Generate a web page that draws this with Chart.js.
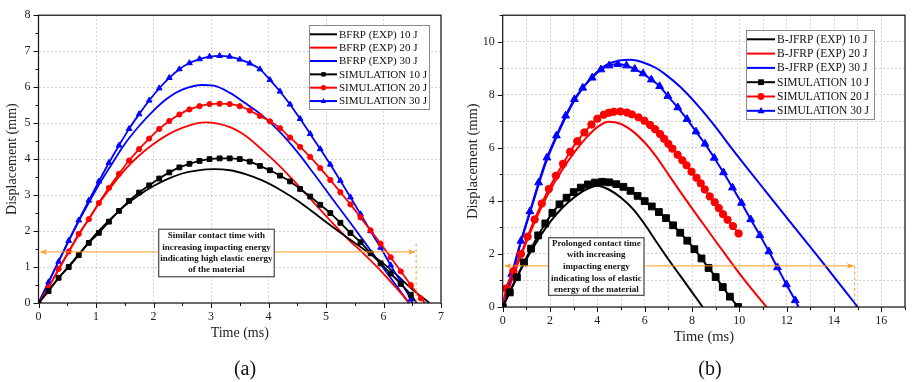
<!DOCTYPE html>
<html lang="en">
<head>
  <meta charset="UTF-8">
  <title>Displacement vs time - BFRP and B-JFRP</title>
  <style>
    body { margin: 0; background: #fff; }
    .sheet {
      position: relative;
      width: 912px;
      height: 382px;
      font-family: 'Liberation Serif', 'Times New Roman', serif;
    }
    canvas { position: absolute; top: 0; }
    #chartA { left: 0; }
    #chartB { left: 460px; }
    .tag {
      position: absolute;
      top: 358px;
      width: 60px;
      line-height: 20px;
      text-align: center;
      font-size: 20px;
      color: #111;
    }
  </style>
</head>
<body>

<div class="sheet">
  <canvas id="chartA" width="460" height="382"></canvas>
  <canvas id="chartB" width="452" height="382"></canvas>
  <div class="tag" style="left:215px">(a)</div>
  <div class="tag" style="left:680px">(b)</div>
</div>

<script src="https://cdn.jsdelivr.net/npm/chart.js"></script>
<script>
  // ---- (a) BFRP ----
  // experiments (smooth lines)
  const expTimeA10 = [0, 0.25, 0.5, 0.75, 1, 1.25, 1.5, 1.75, 2, 2.25, 2.5, 2.75, 3.05, 3.33, 3.6, 3.9, 4.2, 4.5, 4.78, 5.07, 5.36, 5.65, 5.94, 6.23, 6.5, 6.8];
  const expA10 = [0, 0.5, 0.98, 1.45, 1.92, 2.33, 2.7, 3.0, 3.25, 3.45, 3.6, 3.68, 3.72, 3.69, 3.58, 3.4, 3.15, 2.85, 2.52, 2.17, 1.83, 1.5, 1.17, 0.78, 0.38, 0];
  const expTimeA20 = [0, 0.25, 0.5, 0.75, 1, 1.25, 1.5, 1.75, 2, 2.25, 2.5, 2.9, 3.33, 3.6, 3.91, 4.2, 4.49, 4.8, 5.07, 5.4, 5.65, 5.9, 6.12, 6.3, 6.45];
  const expA20 = [0, 0.65, 1.35, 2.02, 2.65, 3.2, 3.7, 4.1, 4.42, 4.68, 4.87, 5.02, 4.89, 4.65, 4.23, 3.8, 3.31, 2.77, 2.3, 1.75, 1.38, 0.98, 0.6, 0.28, 0];
  const expTimeA30 = [0, 0.25, 0.5, 0.75, 1, 1.25, 1.5, 1.75, 2, 2.25, 2.5, 2.85, 3.05, 3.33, 3.6, 3.9, 4.2, 4.5, 4.8, 5.1, 5.4, 5.7, 6.0, 6.25, 6.44];
  const expA30 = [0, 0.83, 1.65, 2.42, 3.15, 3.8, 4.42, 4.92, 5.35, 5.7, 5.93, 6.06, 6.04, 5.84, 5.55, 5.2, 4.75, 4.2, 3.57, 2.92, 2.28, 1.63, 0.97, 0.42, 0];

  // simulations (marker every output step, then the line runs down to zero)
  const simTimeA = [0, 0.175, 0.35, 0.525, 0.7, 0.875, 1.05, 1.225, 1.4, 1.575, 1.75, 1.925, 2.1, 2.275, 2.45, 2.625, 2.8, 2.975, 3.15, 3.325,
                    3.5, 3.675, 3.85, 4.025, 4.2, 4.375, 4.55, 4.725, 4.9, 5.075, 5.25, 5.425, 5.6, 5.775, 5.95, 6.125, 6.3, 6.475, 6.65];
  const simA10 = [0, 0.33, 0.7, 1.0, 1.33, 1.67, 1.95, 2.26, 2.56, 2.84, 3.07, 3.27, 3.46, 3.63, 3.77, 3.87, 3.95, 4.0, 4.02, 4.02,
                  4.0, 3.93, 3.81, 3.69, 3.54, 3.38, 3.17, 2.96, 2.73, 2.5, 2.23, 1.95, 1.69, 1.38, 1.1, 0.82, 0.53, 0.23];
  const simA20 = [0, 0.43, 0.95, 1.43, 1.92, 2.33, 2.78, 3.2, 3.59, 3.96, 4.28, 4.57, 4.84, 5.06, 5.24, 5.38, 5.47, 5.53, 5.54, 5.53,
                  5.47, 5.35, 5.2, 5.05, 4.86, 4.6, 4.34, 4.06, 3.75, 3.42, 3.08, 2.74, 2.38, 2.02, 1.65, 1.27, 0.88, 0.5, 0.13];
  const simA30 = [0, 0.58, 1.15, 1.73, 2.3, 2.85, 3.38, 3.9, 4.38, 4.84, 5.25, 5.63, 5.97, 6.26, 6.5, 6.67, 6.78, 6.85, 6.87, 6.85,
                  6.77, 6.66, 6.5, 6.2, 5.88, 5.52, 5.12, 4.7, 4.28, 3.85, 3.4, 2.94, 2.47, 2.0, 1.54, 1.05, 0.58, 0.1];
  const simEndA = [6.58, 6.72, 6.5];   // time where each simulation curve meets zero

  // ---- (b) B-JFRP ----
  const expTimeB10 = [0, 0.5, 1, 1.5, 2, 2.5, 3, 3.5, 4, 4.5, 5, 5.5, 6, 6.5, 7, 7.5, 8, 8.45];
  const expB10 = [0, 0.95, 1.8, 2.55, 3.2, 3.72, 4.12, 4.42, 4.57, 4.42, 4.12, 3.7, 3.12, 2.45, 1.8, 1.18, 0.56, 0];
  const expTimeB20 = [0, 0.5, 1, 1.5, 2, 2.5, 3, 3.5, 4, 4.48, 5, 5.5, 6, 6.5, 7, 7.5, 8, 8.5, 9, 9.5, 10, 10.5, 11.15];
  const expB20 = [0, 1.3, 2.45, 3.5, 4.4, 5.15, 5.8, 6.35, 6.78, 6.98, 6.9, 6.62, 6.2, 5.65, 5.0, 4.35, 3.72, 3.1, 2.48, 1.87, 1.27, 0.7, 0];
  const expTimeB30 = [0, 0.4, 0.77, 1.15, 1.52, 1.87, 2.27, 2.66, 3.03, 3.38, 3.78, 4.15, 4.5, 5.0, 5.4, 6.0, 6.5, 6.86, 7.5, 8.26,
                      9.0, 9.66, 10.5, 11.06, 12.06, 13.46, 14.86, 15.0];
  const expB30 = [0, 1.22, 2.45, 3.55, 4.62, 5.55, 6.4, 7.15, 7.78, 8.25, 8.68, 8.98, 9.18, 9.3, 9.32, 9.2, 9.0, 8.78, 8.3, 7.58,
                  6.78, 6.0, 5.05, 4.42, 3.3, 1.75, 0.16, 0];

  const simTimeB10 = [0, 0.3, 0.6, 0.9, 1.2, 1.5, 1.8, 2.1, 2.4, 2.7, 3.0, 3.3, 3.6, 3.9, 4.2, 4.5, 4.8, 5.1, 5.4, 5.7,
                      6.0, 6.3, 6.6, 6.9, 7.2, 7.5, 7.8, 8.1, 8.4, 8.7, 9.0, 9.3, 9.6, 9.95];
  const simB10 = [0, 0.55, 1.12, 1.68, 2.2, 2.7, 3.15, 3.55, 3.87, 4.12, 4.33, 4.5, 4.62, 4.69, 4.72, 4.7, 4.63, 4.53, 4.38, 4.19,
                  3.99, 3.79, 3.58, 3.35, 3.08, 2.8, 2.5, 2.18, 1.83, 1.47, 1.13, 0.75, 0.39, 0];
  const simTimeB20 = [0, 0.15, 0.45, 0.77, 1.05, 1.35, 1.65, 1.95, 2.25, 2.55, 2.85, 3.15, 3.45, 3.75, 4.0, 4.27, 4.48, 4.69, 4.97, 5.25,
                      5.46, 5.74, 5.99, 6.23, 6.44, 6.65, 6.82, 7.0, 7.17, 7.39, 7.59, 7.77, 7.98, 8.19, 8.37, 8.54, 8.75, 8.96, 9.13, 9.31,
                      9.5, 9.73, 9.97];
  const simB20 = [0, 0.7, 1.35, 2.0, 2.65, 3.3, 3.9, 4.45, 4.95, 5.4, 5.85, 6.25, 6.58, 6.88, 7.1, 7.25, 7.32, 7.36, 7.37, 7.33,
                  7.26, 7.15, 7.02, 6.86, 6.7, 6.52, 6.34, 6.15, 5.97, 5.74, 5.53, 5.34, 5.1, 4.87, 4.66, 4.43, 4.17, 3.95, 3.73, 3.5,
                  3.29, 3.05, 2.77];
  const simTimeB30 = [0, 0.38, 0.77, 1.15, 1.52, 1.87, 2.27, 2.66, 3.03, 3.38, 3.78, 4.15, 4.5, 4.87, 5.23, 5.58, 5.93, 6.28, 6.63, 6.98,
                      7.4, 7.79, 8.17, 8.55, 8.94, 9.33, 9.71, 10.09, 10.48, 10.87, 11.25, 11.61, 11.99, 12.36, 12.5];
  const simB30 = [0, 1.24, 2.49, 3.6, 4.69, 5.63, 6.46, 7.21, 7.83, 8.26, 8.64, 8.95, 9.1, 9.15, 9.1, 8.97, 8.8, 8.57, 8.32, 7.95,
                  7.52, 7.08, 6.61, 6.15, 5.62, 5.07, 4.5, 3.92, 3.3, 2.7, 2.09, 1.49, 0.85, 0.25, 0];

  const labelsA = ['BFRP (EXP) 10 J', 'BFRP (EXP) 20 J', 'BFRP (EXP) 30 J', 'SIMULATION 10 J', 'SIMULATION 20 J', 'SIMULATION 30 J'];
  const labelsB = ['B-JFRP (EXP) 10 J', 'B-JFRP (EXP) 20 J', 'B-JFRP (EXP) 30 J', 'SIMULATION 10 J', 'SIMULATION 20 J', 'SIMULATION 30 J'];
  const noteA = ['Similar contact time with', 'increasing impacting energy', 'indicating high elastic energy', 'of the material'];
  const noteB = ['Prolonged contact time', 'with increasing', 'impacting energy', 'indicating loss of elastic', 'energy of the material'];

  const COLORS = ['#000000', '#ff0000', '#0000ff'];
  const MARKERS = ['rect', 'circle', 'triangle'];
  const SERIF = "'Liberation Serif', 'Times New Roman', serif";

  const pts = (ts, ys) => ys.map((v, i) => ({ x: ts[i], y: v }));

  function expSet(label, color, ts, ys, w) {
    return {
      label, data: pts(ts, ys), borderColor: color, backgroundColor: color,
      borderWidth: w, pointRadius: 0, cubicInterpolationMode: 'monotone', order: 2
    };
  }

  function simSet(label, color, style, data, r, w, hideLast) {
    return {
      label, data, borderColor: color, backgroundColor: color, borderWidth: w,
      pointStyle: style, pointBorderWidth: 1,
      pointRadius: data.map((_, i) => (hideLast && i === data.length - 1) ? 0 : r),
      cubicInterpolationMode: 'monotone', order: 1, sim: true
    };
  }

  // draws a legend marker like the chart's own points
  function marker(ctx, style, x, y, r) {
    ctx.beginPath();
    if (style === 'rect') {
      ctx.rect(x - r * 0.85, y - r * 0.85, r * 1.7, r * 1.7);
    } else if (style === 'circle') {
      ctx.arc(x, y, r, 0, Math.PI * 2);
    } else {
      ctx.moveTo(x, y - r * 1.15);
      ctx.lineTo(x - r * 1.05, y + r * 0.75);
      ctx.lineTo(x + r * 1.05, y + r * 0.75);
      ctx.closePath();
    }
    ctx.fill();
  }

  function arrowHead(ctx, x, y, dir) {
    ctx.beginPath();
    ctx.moveTo(x, y);
    ctx.lineTo(x - dir * 7, y - 2.8);
    ctx.lineTo(x - dir * 5, y);
    ctx.lineTo(x - dir * 7, y + 2.8);
    ctx.closePath();
    ctx.fill();
  }

  const paperLook = {
    id: 'paperLook',
    afterDatasetsDraw(chart, args, o) {
      const { ctx, scales: { x, y } } = chart;
      ctx.save();
      // orange double-headed arrow and dashed drop line
      const ay = y.getPixelForValue(o.arrowY);
      const x0 = x.getPixelForValue(o.arrowX[0]);
      const x1 = x.getPixelForValue(o.arrowX[1]);
      ctx.strokeStyle = '#ff9a2e';
      ctx.fillStyle = '#ff9a2e';
      ctx.lineWidth = 1;
      ctx.beginPath();
      ctx.moveTo(x0, ay);
      ctx.lineTo(x1, ay);
      ctx.stroke();
      arrowHead(ctx, x0, ay, -1);
      arrowHead(ctx, x1, ay, 1);
      ctx.setLineDash([3, 2.5]);
      ctx.beginPath();
      ctx.moveTo(x1 + 1, y.getPixelForValue(o.dropTop));
      ctx.lineTo(x1 + 1, y.getPixelForValue(0));
      ctx.stroke();
      ctx.setLineDash([]);

      // note box
      const bl = x.getPixelForValue(o.box[0]), br = x.getPixelForValue(o.box[1]);
      const bt = y.getPixelForValue(o.box[2]), bb = y.getPixelForValue(o.box[3]);
      ctx.fillStyle = '#fff';
      ctx.fillRect(bl, bt, br - bl, bb - bt);
      ctx.strokeStyle = '#555';
      ctx.lineWidth = 1.3;
      ctx.strokeRect(bl, bt, br - bl, bb - bt);
      ctx.fillStyle = '#111';
      ctx.font = 'bold ' + o.noteSize + 'px ' + SERIF;
      ctx.textAlign = 'center';
      ctx.textBaseline = 'middle';
      const first = (bt + bb) / 2 - o.noteLine * (o.note.length - 1) / 2;
      o.note.forEach((s, i) => ctx.fillText(s, (bl + br) / 2, first + i * o.noteLine));
      ctx.restore();
    },
    afterDraw(chart, args, o) {
      const { ctx, chartArea: a, scales: { x, y } } = chart;
      ctx.save();
      // frame
      ctx.strokeStyle = '#111';
      ctx.lineWidth = 1.2;
      ctx.strokeRect(a.left, a.top, a.right - a.left, a.bottom - a.top);

      // outward tick marks, major and minor
      ctx.lineWidth = 1;
      ctx.beginPath();
      for (let v = x.min; v <= x.max + 1e-6; v += o.xTicks[1]) {
        const px = Math.round(x.getPixelForValue(v)) + 0.5;
        const major = Math.abs(v / o.xTicks[0] - Math.round(v / o.xTicks[0])) < 1e-6;
        ctx.moveTo(px, a.bottom);
        ctx.lineTo(px, a.bottom + (major ? 5 : 3));
      }
      for (let v = y.min; v <= y.max + 1e-6; v += o.yTicks[1]) {
        const py = Math.round(y.getPixelForValue(v)) + 0.5;
        const major = Math.abs(v / o.yTicks[0] - Math.round(v / o.yTicks[0])) < 1e-6;
        ctx.moveTo(a.left, py);
        ctx.lineTo(a.left - (major ? 5 : 3), py);
      }
      ctx.stroke();

      // legend
      const L = o.legend;
      ctx.fillStyle = '#fff';
      ctx.fillRect(L.x, L.y, L.w, L.h);
      ctx.strokeStyle = '#8a8a8a';
      ctx.lineWidth = 1;
      ctx.strokeRect(L.x + 0.5, L.y + 0.5, L.w, L.h);
      ctx.font = L.size + 'px ' + SERIF;
      ctx.textBaseline = 'middle';
      ctx.textAlign = 'left';
      chart.data.datasets.forEach((d, i) => {
        const ry = L.y + L.first + i * L.row;
        ctx.strokeStyle = d.borderColor;
        ctx.fillStyle = d.borderColor;
        ctx.lineWidth = 2;
        ctx.beginPath();
        ctx.moveTo(L.x + 1, ry);
        ctx.lineTo(L.x + 1 + L.line, ry);
        ctx.stroke();
        if (d.sim) marker(ctx, d.pointStyle, L.x + 1 + L.line / 2, ry, L.mark);
        ctx.fillStyle = '#111';
        ctx.fillText(d.label, L.x + L.line + 3, ry + 0.5);
      });
      ctx.restore();
    }
  };

  function axes(xMax, yMax, labelEvery, titleSize, yWidth) {
    const tickFont = { family: SERIF, size: 12 };
    const grid = { color: '#d2d2d2', lineWidth: 1, drawTicks: false };
    return {
      x: {
        type: 'linear', min: 0, max: xMax,
        afterFit: s => { s.height = 43; },
        grid,
        border: { display: false, dash: [2, 2] },
        ticks: {
          stepSize: 1, autoSkip: false, maxRotation: 0, padding: 7, color: '#222', font: tickFont,
          callback: v => (v % labelEvery === 0 ? v : '')
        },
        title: { display: true, text: 'Time (ms)', color: '#222', font: { family: SERIF, size: titleSize } }
      },
      y: {
        type: 'linear', min: 0, max: yMax,
        afterFit: s => { s.width = yWidth; },
        grid,
        border: { display: false, dash: [2, 2] },
        ticks: {
          stepSize: 1, autoSkip: false, padding: 8, color: '#222', font: tickFont,
          callback: v => (v % labelEvery === 0 ? v : '')
        },
        title: { display: true, text: 'Displacement (mm)', color: '#222', font: { family: SERIF, size: titleSize } }
      }
    };
  }

  const withEnd = (ys, end) => pts(simTimeA, ys).concat({ x: end, y: 0 });

  new Chart(document.getElementById('chartA'), {
    type: 'line',
    data: {
      datasets: [
        expSet(labelsA[0], COLORS[0], expTimeA10, expA10, 1.8),
        expSet(labelsA[1], COLORS[1], expTimeA20, expA20, 1.8),
        expSet(labelsA[2], COLORS[2], expTimeA30, expA30, 1.8),
        simSet(labelsA[3], COLORS[0], MARKERS[0], withEnd(simA10, simEndA[0]), 3.4, 1.8, true),
        simSet(labelsA[4], COLORS[1], MARKERS[1], withEnd(simA20, simEndA[1]), 2.6, 1.8, true),
        simSet(labelsA[5], COLORS[2], MARKERS[2], withEnd(simA30, simEndA[2]), 3.3, 1.8, true)
      ]
    },
    options: {
      responsive: false,
      animation: false,
      layout: { padding: { left: 0, top: 13, right: 19, bottom: 36 } },
      plugins: {
        legend: { display: false },
        tooltip: { enabled: false },
        paperLook: {
          arrowY: 1.42, arrowX: [0.03, 6.55], dropTop: 1.65,
          box: [2.09, 4.1, 2.05, 0.73], note: noteA, noteSize: 9, noteLine: 11.3,
          xTicks: [1, 0.5], yTicks: [1, 0.5],
          legend: { x: 309, y: 25, w: 120, h: 84, first: 9.3, row: 13.35, line: 27, mark: 2.6, size: 11 }
        }
      },
      scales: axes(7, 8, 1, 14, 38.5)
    },
    plugins: [paperLook]
  });

  new Chart(document.getElementById('chartB'), {
    type: 'line',
    data: {
      datasets: [
        expSet(labelsB[0], COLORS[0], expTimeB10, expB10, 2),
        expSet(labelsB[1], COLORS[1], expTimeB20, expB20, 2),
        expSet(labelsB[2], COLORS[2], expTimeB30, expB30, 2),
        simSet(labelsB[3], COLORS[0], MARKERS[0], pts(simTimeB10, simB10), 4.8, 2, false),
        simSet(labelsB[4], COLORS[1], MARKERS[1], pts(simTimeB20, simB20), 3.7, 2, false),
        simSet(labelsB[5], COLORS[2], MARKERS[2], pts(simTimeB30, simB30), 4.5, 2, true)
      ]
    },
    options: {
      responsive: false,
      animation: false,
      layout: { padding: { left: 0, top: 12, right: 4, bottom: 32 } },
      plugins: {
        legend: { display: false },
        tooltip: { enabled: false },
        paperLook: {
          arrowY: 1.55, arrowX: [0.08, 14.83], dropTop: 1.55,
          box: [1.94, 5.97, 2.61, 0.44], note: noteB, noteSize: 9, noteLine: 11.65,
          xTicks: [2, 1], yTicks: [2, 1],
          legend: { x: 286, y: 30, w: 128, h: 89, first: 9.3, row: 14.3, line: 28, mark: 3.4, size: 11.5 }
        }
      },
      scales: axes(17, 11, 2, 14.5, 42.7)
    },
    plugins: [paperLook]
  });
</script>

</body>
</html>
